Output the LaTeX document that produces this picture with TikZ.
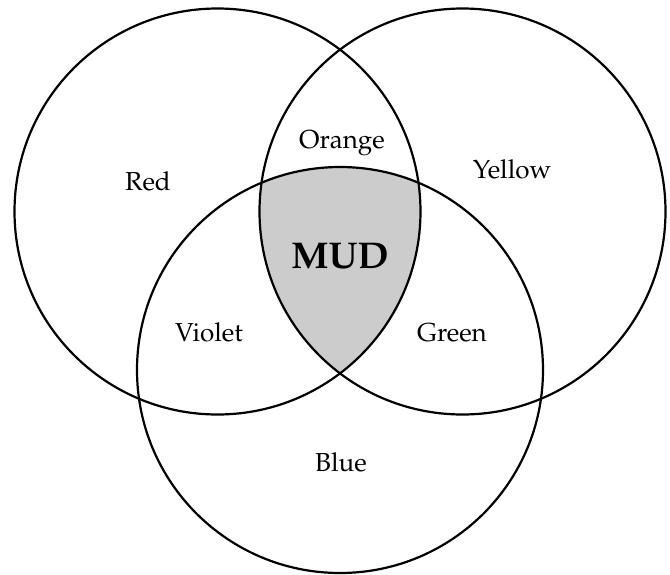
\documentclass[tikz,border=0pt]{standalone}
\usepackage[T1]{fontenc}
\usepackage{mathpazo}
\begin{document}
\begin{tikzpicture}[x=0.5pt,y=-0.5pt,
  venn/.style={circle,draw=black,line width=1.1pt,minimum size=203pt,inner sep=0pt,outer sep=0pt},
  lbl/.style={font=\fontsize{13}{15}\selectfont,inner sep=0pt},
  big/.style={font=\fontsize{18.6}{22}\selectfont\bfseries,inner sep=0pt}]
\useasboundingbox (0,0) rectangle (670,574);
\begin{scope}
  \clip (217.5,211.5) circle[radius=101.5pt];
  \clip (462.5,211.5) circle[radius=101.5pt];
  \fill[black!20] (340,370) circle[radius=101.5pt];
\end{scope}
\node[venn] (red) at (217.5,211.5) {};
\node[venn] (yellow) at (462.5,211.5) {};
\node[venn] (blue) at (340,370) {};
\node[lbl] (tred) at (148,181) {Red};
\node[lbl] (torange) at (342,143) {Orange};
\node[lbl] (tyellow) at (512,169) {Yellow};
\node[big] (tmud) at (340,256) {MUD};
\node[lbl] (tviolet) at (209,332) {Violet};
\node[lbl] (tgreen) at (452,333) {Green};
\node[lbl] (tblue) at (341,462) {Blue};
\end{tikzpicture}
\end{document}
